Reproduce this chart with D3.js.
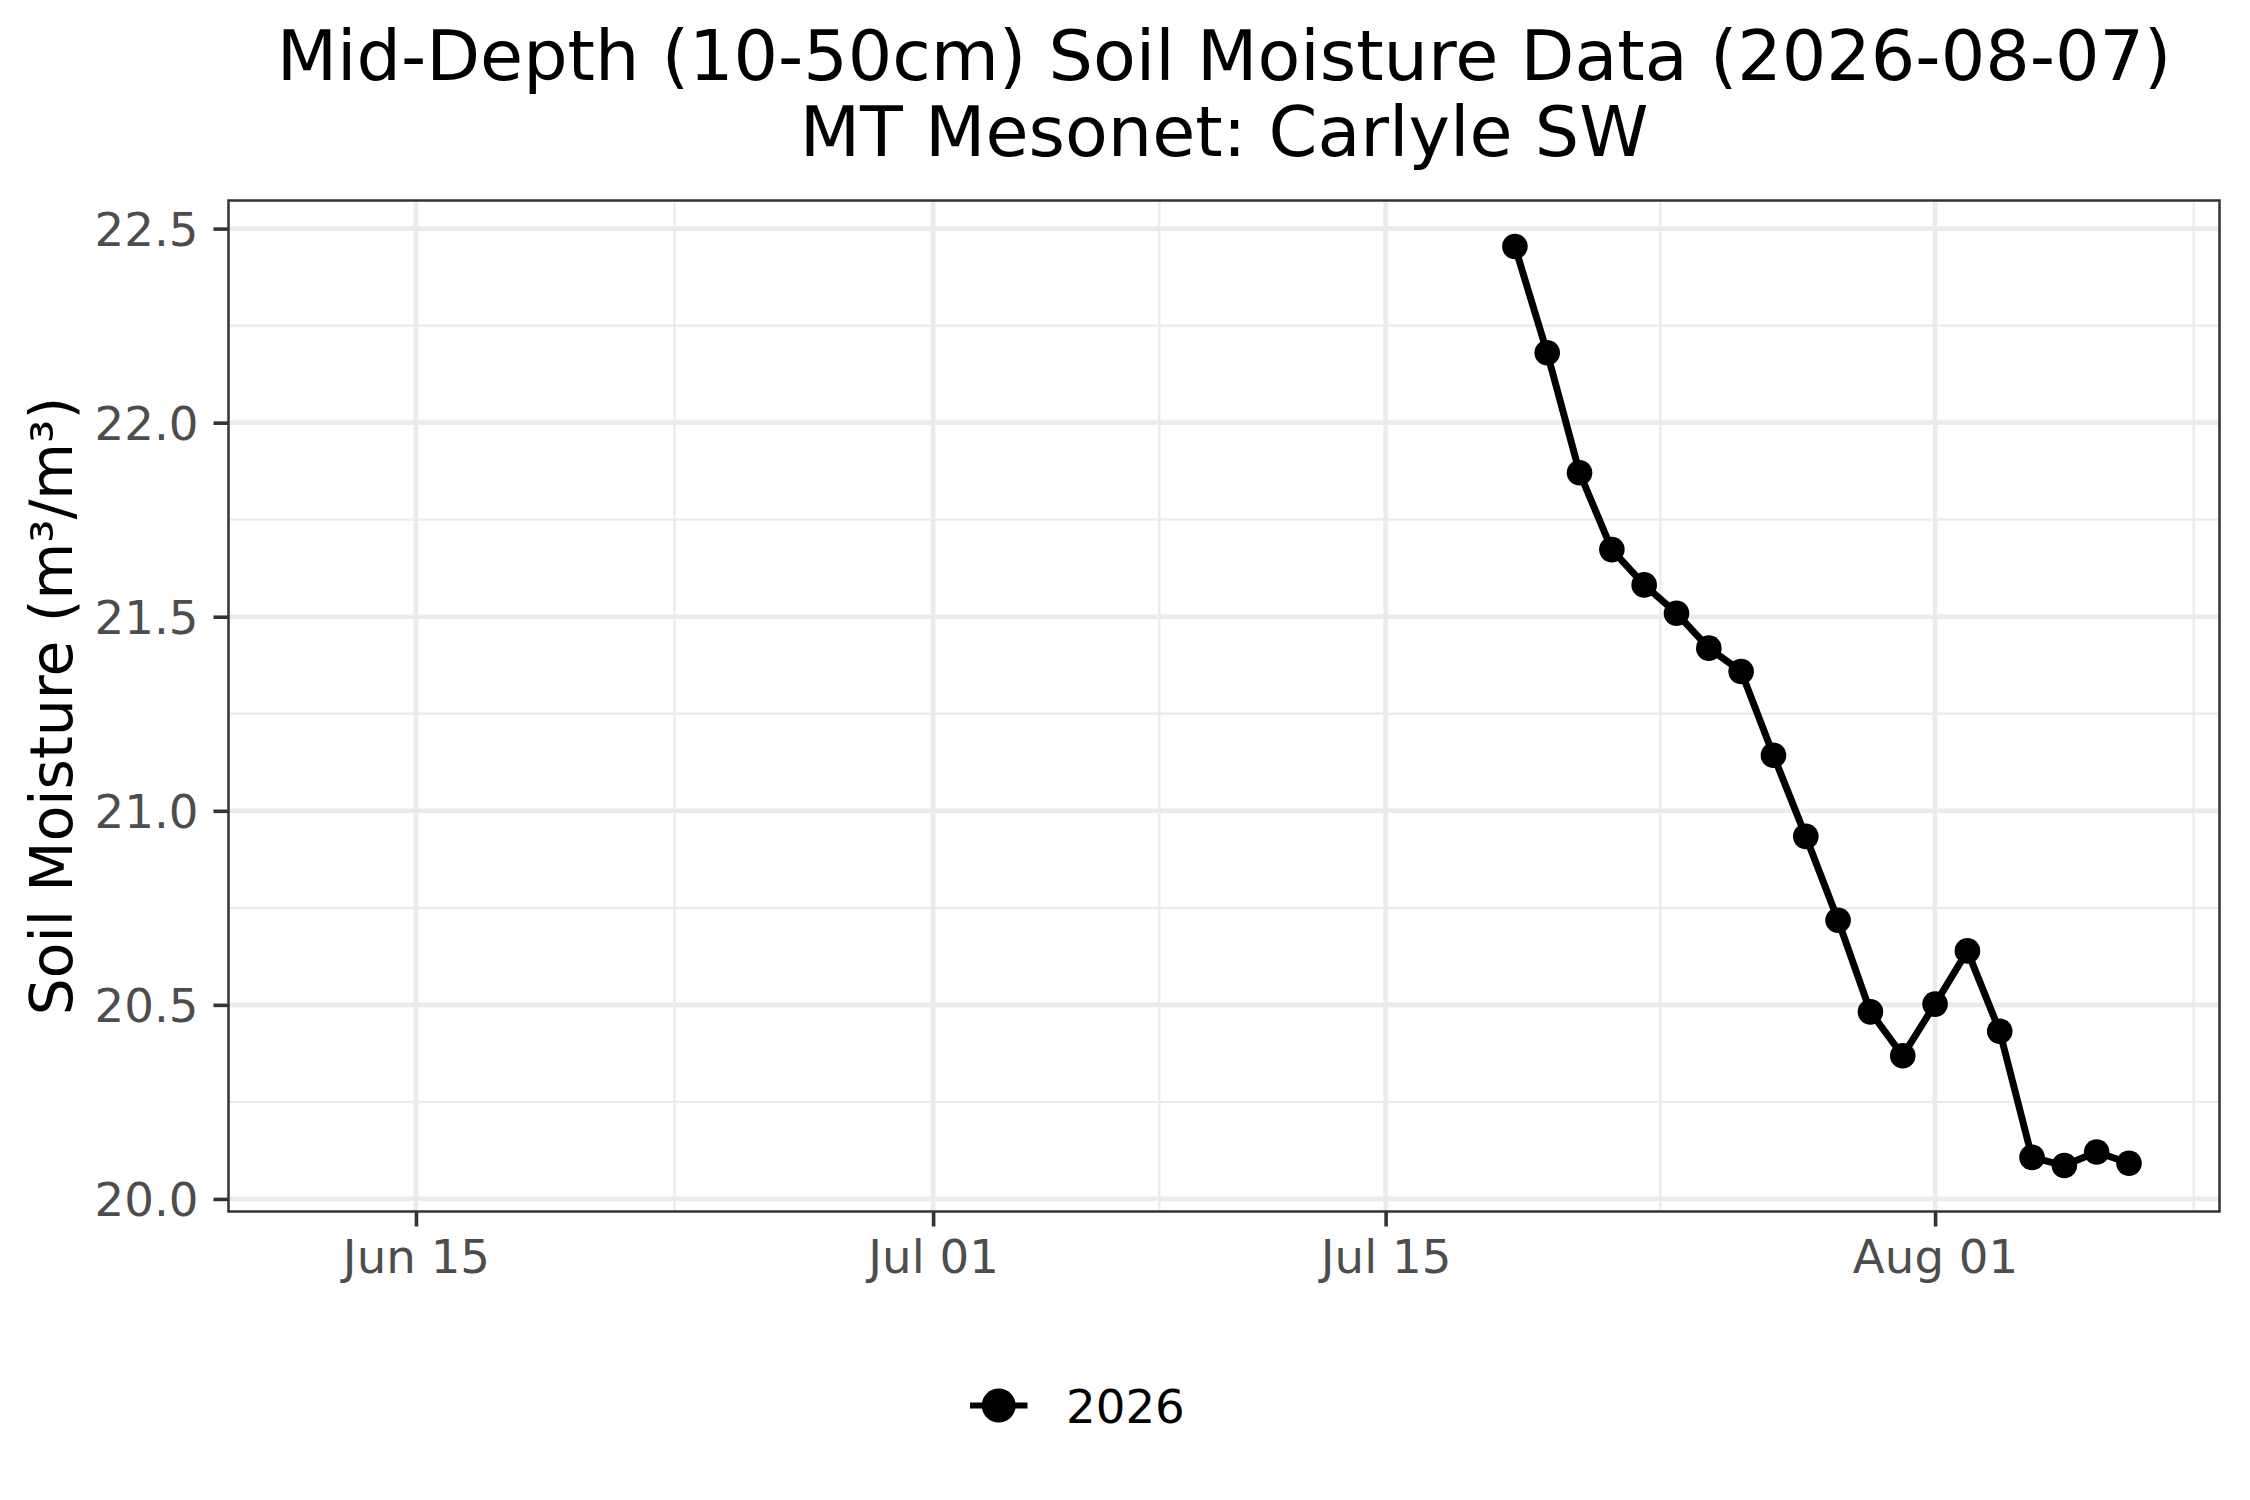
<!DOCTYPE html>
<html>
<head>
<meta charset="utf-8">
<script src="https://cdn.jsdelivr.net/npm/d3@7"></script>
<style>
  html, body { margin: 0; padding: 0; background: #fff; }
  svg { display: block; }
  text { font-family: "DejaVu Sans", sans-serif; }
</style>
</head>
<body>
<svg id="chart" width="2250" height="1500"></svg>
<script>
// ---- data ----
const titleLines = ["Mid-Depth (10-50cm) Soil Moisture Data (2026-08-07)", "MT Mesonet: Carlyle SW"];
const yAxisTitle = "Soil Moisture (m\u00B3/m\u00B3)";
const seriesName = "2026";
const dates = ["2026-07-19","2026-07-20","2026-07-21","2026-07-22","2026-07-23","2026-07-24","2026-07-25",
               "2026-07-26","2026-07-27","2026-07-28","2026-07-29","2026-07-30","2026-07-31","2026-08-01",
               "2026-08-02","2026-08-03","2026-08-04","2026-08-05","2026-08-06","2026-08-07"];
const moisture = [22.454, 22.180, 21.871, 21.673, 21.582, 21.509, 21.419, 21.359, 21.143, 20.934,
                  20.718, 20.482, 20.369, 20.502, 20.639, 20.432, 20.107, 20.086, 20.121, 20.092];
const xLimits = ["2026-06-12", "2026-08-07"];
const xMajorTicks = ["2026-06-15", "2026-07-01", "2026-07-15", "2026-08-01"];
const xTickLabels = ["Jun 15", "Jul 01", "Jul 15", "Aug 01"];
const xMinorTicks = ["2026-06-23T00:00Z", "2026-07-08T00:00Z", "2026-07-23T12:00Z", "2026-08-09T00:00Z"];
const yMajorTicks = [20.0, 20.5, 21.0, 21.5, 22.0, 22.5];
const yMinorTicks = [20.25, 20.75, 21.25, 21.75, 22.25];

// ---- layout ----
const panel = { left: 228.5, right: 2219.5, top: 200.5, bottom: 1211.5 };
const parse = s => new Date(s.length === 10 ? s + "T00:00:00Z" : s);

const svg = d3.select("#chart");

const xl0 = parse(xLimits[0]).getTime(), xl1 = parse(xLimits[1]).getTime();
const xExp = (xl1 - xl0) * 0.05;
const x = d3.scaleUtc()
  .domain([new Date(xl0 - xExp), new Date(xl1 + xExp)])
  .range([panel.left, panel.right]);

const yMin = d3.min(moisture), yMax = d3.max(moisture);
const yExp = (yMax - yMin) * 0.05;
const y = d3.scaleLinear()
  .domain([yMin - yExp, yMax + yExp])
  .range([panel.bottom, panel.top]);

const grid = svg.append("g");
// minor gridlines
grid.selectAll(".ymin").data(yMinorTicks).enter().append("line")
  .attr("x1", panel.left).attr("x2", panel.right)
  .attr("y1", d => y(d)).attr("y2", d => y(d))
  .attr("stroke", "#EBEBEB").attr("stroke-width", 2.3);
grid.selectAll(".xmin").data(xMinorTicks).enter().append("line")
  .attr("y1", panel.top).attr("y2", panel.bottom)
  .attr("x1", d => x(parse(d))).attr("x2", d => x(parse(d)))
  .attr("stroke", "#EBEBEB").attr("stroke-width", 2.3);
// major gridlines
grid.selectAll(".ymaj").data(yMajorTicks).enter().append("line")
  .attr("x1", panel.left).attr("x2", panel.right)
  .attr("y1", d => y(d)).attr("y2", d => y(d))
  .attr("stroke", "#EBEBEB").attr("stroke-width", 4.6);
grid.selectAll(".xmaj").data(xMajorTicks).enter().append("line")
  .attr("y1", panel.top).attr("y2", panel.bottom)
  .attr("x1", d => x(parse(d))).attr("x2", d => x(parse(d)))
  .attr("stroke", "#EBEBEB").attr("stroke-width", 4.6);

// data
const pts = dates.map((d, i) => ({ date: parse(d), v: moisture[i] }));
const line = d3.line().x(d => x(d.date)).y(d => y(d.v));
svg.append("path").datum(pts)
  .attr("d", line)
  .attr("fill", "none").attr("stroke", "#000")
  .attr("stroke-width", 7).attr("stroke-linejoin", "round").attr("stroke-linecap", "butt");
svg.append("g").selectAll("circle").data(pts).enter().append("circle")
  .attr("cx", d => x(d.date)).attr("cy", d => y(d.v)).attr("r", 12.8).attr("fill", "#000");

// panel border
svg.append("rect")
  .attr("x", panel.left).attr("y", panel.top)
  .attr("width", panel.right - panel.left).attr("height", panel.bottom - panel.top)
  .attr("fill", "none").attr("stroke", "#333333").attr("stroke-width", 2.5);

// axes
const xAxis = d3.axisBottom(x)
  .tickValues(xMajorTicks.map(parse))
  .tickFormat((d, i) => xTickLabels[i])
  .tickSize(15).tickPadding(13);
const gx = svg.append("g").attr("transform", `translate(0,${panel.bottom})`).call(xAxis);
gx.select(".domain").remove();
gx.selectAll(".tick line").attr("stroke", "#333333").attr("stroke-width", 3.6);
gx.selectAll(".tick text").attr("fill", "#4D4D4D").style("font-size", "46.7px")
  .style("font-family", "'DejaVu Sans', sans-serif");

const yAxis = d3.axisLeft(y)
  .tickValues(yMajorTicks)
  .tickFormat(d3.format(".1f"))
  .tickSize(15).tickPadding(15);
const gy = svg.append("g").attr("transform", `translate(${panel.left},0)`).call(yAxis);
gy.select(".domain").remove();
gy.selectAll(".tick line").attr("stroke", "#333333").attr("stroke-width", 3.6);
gy.selectAll(".tick text").attr("fill", "#4D4D4D").style("font-size", "46.7px")
  .attr("dy", "0.36em")
  .style("font-family", "'DejaVu Sans', sans-serif");

// y axis title
const pcy = (panel.top + panel.bottom) / 2;
svg.append("text")
  .attr("transform", `translate(72,${pcy}) rotate(-90)`)
  .attr("text-anchor", "middle")
  .attr("fill", "#000").style("font-size", "58.3px")
  .text(yAxisTitle);

// title
const pcx = (panel.left + panel.right) / 2;
svg.append("g").selectAll("text").data(titleLines).enter().append("text")
  .attr("x", pcx).attr("y", (d, i) => 80 + i * 76)
  .attr("text-anchor", "middle").attr("fill", "#000")
  .style("font-size", "70px")
  .text(d => d);

// legend
const lg = svg.append("g");
lg.append("line").attr("x1", 970).attr("x2", 1027.5).attr("y1", 1405.5).attr("y2", 1405.5)
  .attr("stroke", "#000").attr("stroke-width", 6);
lg.append("circle").attr("cx", 998.7).attr("cy", 1405.5).attr("r", 17).attr("fill", "#000");
lg.append("text").attr("x", 1066).attr("y", 1422.7).attr("fill", "#000")
  .style("font-size", "46.7px").text(seriesName);
</script>
</body>
</html>
